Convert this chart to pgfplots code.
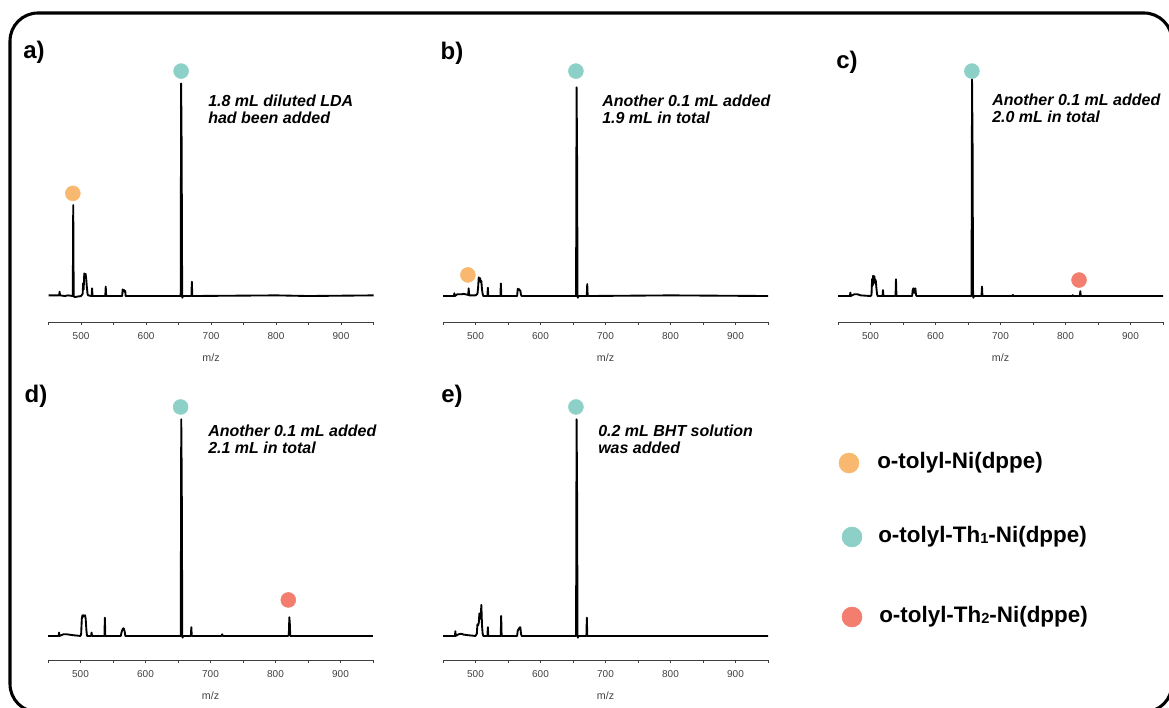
\documentclass[border=0pt]{standalone}
\usepackage{pgfplots}
\pgfplotsset{compat=1.18}
\usepackage{fontspec}
\setmainfont{Liberation Sans}
\definecolor{tealc}{HTML}{8DD0C7}
\definecolor{orangec}{HTML}{F8B86F}
\definecolor{redc}{HTML}{F37D6E}
\pgfplotsset{
  panel/.style={scale only axis, width=243.75pt, height=211.5pt,
    xmin=450, xmax=950, axis x line=bottom, axis y line=none,
    axis line style={-, draw=black!75, line width=0.6pt},
    xtick={500,600,...,900}, minor xtick={450,550,...,950},
    tick align=outside, major tick length=2.5pt, minor tick length=2pt,
    tick style={draw=black!75, line width=0.5pt},
    ticklabel style={font=\fontsize{7.5}{8}\selectfont, text=black!75, yshift=-1.5pt},
    xlabel={m/z},
    xlabel style={font=\fontsize{8}{9}\selectfont, text=black!75, at={(axis description cs:0.5,0)}, anchor=center, yshift=-26.5pt},
    clip=false, /pgf/number format/assume math mode=true, scaled x ticks=false,
    anchor=south west},
  toprow/.style={panel, ymin=-12.2, ymax=120.2},
  botrow/.style={panel, ymin=-11.3, ymax=121.1},
  spec/.style={black, line width=1.4pt, line join=round, mark=none},
  dot/.style={only marks, mark=*, mark size=5.6pt, mark options={draw=#1, fill=#1}},
}
\begin{document}
\begin{tikzpicture}
\useasboundingbox (0pt,0pt) rectangle (876.75pt,530.25pt);
\draw[line width=2.3pt, rounded corners=21pt] (7.5pt,-3.75pt) rectangle (879pt,520.5pt);

% panel a
\begin{axis}[toprow, at={(36.4pt,288.75pt)}]
\addplot[spec] coordinates {(450,0.3)(466.3,0.3)(467,2.0)(467.7,0.3)(475,0)(480,0.3)(487.3,0)(488,42.7)(488.7,0)(490,-0.5)(500,0)(502.5,1)(503.3,6)(504,3)(505,10.6)(506,9.5)(507,10.4)(508,8)(509,4)(510,1)(511,0.3)(516.3,0)(517,3.6)(517.7,0)(530,0)(537.3,0)(538,4.4)(538.7,0)(560,0)(563.3,0)(564,3.1)(565,2.5)(566,2.8)(567,2.0)(568,2.4)(568.7,0)(600,0)(653.3,0)(654,99.8)(654.8,70)(655.6,0)(656,-0.8)(656.5,0)(669.8,0)(670.5,6.7)(671.2,0)(800,0.3)(850,0)(950,0.3)};
\addplot[dot=tealc] coordinates {(654,105.6)};
\addplot[dot=orangec] coordinates {(487.4,48.2)};
\end{axis}

% panel b
\begin{axis}[toprow, at={(332.25pt,288.75pt)}]
\addplot[spec] coordinates {(450,0)(466.8,0)(467.5,1.3)(468.2,0)(472,0.8)(478,0.8)(482,1)(488.8,0.5)(489.5,3.6)(490.2,0.3)(500,0.3)(503,1)(504,4)(505,8.8)(506,7)(507,8.4)(508,6.5)(509,7)(510,3)(511,1)(512,0)(518.3,0)(519,3.9)(519.7,0)(538.3,0)(539,5.9)(539.7,0)(564,0)(565,3.4)(566,3)(567,3.2)(568,2.5)(569,2.6)(570,0.5)(571,0)(654.7,0)(655.5,98)(656.2,70)(657,0)(657.5,-0.8)(658,0)(671.2,0)(671.9,5.6)(672.6,0)(800,0.3)(950,0)};
\addplot[dot=tealc] coordinates {(654.5,105.6)};
\addplot[dot=orangec] coordinates {(488.3,9.9)};
\end{axis}

% panel c
\begin{axis}[toprow, at={(628.5pt,288.75pt)}]
\addplot[spec] coordinates {(450,0)(468.3,0)(469,1.6)(469.7,0)(475,0.8)(480,0.8)(485,0.3)(500,0)(501.5,0.5)(502.5,8)(503.5,5)(504,9.5)(505,7)(506,9.3)(507,6)(508,7.5)(509,4)(510,1)(511,0)(518.5,0)(519.2,2.8)(519.9,0)(538.5,0)(539.2,7.8)(539.9,0)(564,0)(565,3)(566,3.6)(567,1.5)(568,3.4)(569,3.6)(570,0.5)(571,0)(655.4,0)(656.2,101.7)(657,72)(657.8,0)(658.3,-0.8)(659,0)(670.8,0)(671.5,4.4)(672.2,0)(718,0)(719,0.5)(720,0)(810,0)(811,0.4)(812,0)(822.1,0)(822.8,2.3)(823.5,0)(950,0)};
\addplot[dot=tealc] coordinates {(656,105.6)};
\addplot[dot=redc] coordinates {(820.8,7.5)};
\end{axis}

% panel d
\begin{axis}[botrow, at={(36pt,35.25pt)}]
\addplot[spec] coordinates {(450,0)(466.3,0)(467,1.6)(467.7,0)(474,0.8)(478,0.8)(490,0.3)(500,0)(501,1)(502,8)(503,9.7)(504,9)(505,9.7)(506,9.2)(507,9.7)(508,8)(509,3)(510,0)(516.3,0)(517,1.6)(517.7,0)(536.8,0)(537.5,8.6)(538.2,0)(562,0)(563,1.5)(564,2.5)(565,3.3)(566,3.6)(567,3.2)(568,2)(569,0)(654.2,0)(655,101.7)(655.8,72)(656.6,0)(657.1,-0.8)(657.6,0)(669.8,0)(670.5,4.1)(671.2,0)(717,0)(718,0.8)(719,0)(819,0)(820.5,0.5)(821.3,8.8)(822,6)(822.7,0)(950,0)};
\addplot[dot=tealc] coordinates {(654,107.5)};
\addplot[dot=redc] coordinates {(819.7,16.9)};
\end{axis}

% panel e
\begin{axis}[botrow, at={(332.25pt,35.25pt)}]
\addplot[spec] coordinates {(450,0)(468.3,0)(469,2.2)(469.7,0)(474,0.8)(478,1)(482,0.6)(490,0.3)(500,0)(502,1)(503,5.5)(504,5)(505,6)(506,10.6)(507,8)(508,9)(509,14.6)(510,5)(511,1)(512,0)(518.3,0)(519,4.1)(519.7,0)(538.8,0)(539.5,9.4)(540.2,0)(564,0)(565,2.5)(566,3)(567,3.5)(568,4.1)(569,4)(570,1)(571,0)(654.7,0)(655.5,101.7)(656.2,72)(657,0)(657.5,-0.8)(658,0)(670.6,0)(671.3,8.6)(672,0)(950,0)};
\addplot[dot=tealc] coordinates {(654.5,107.5)};
\end{axis}

% legend
\begin{axis}[scale only axis, width=276.75pt, height=172.5pt, at={(600pt,42.75pt)}, anchor=south west,
  xmin=800, xmax=1169, ymin=420, ymax=650, y dir=reverse, hide axis, clip=false]
\addplot[dot=orangec, mark size=7.5pt] coordinates {(849,463)};
\addplot[dot=tealc, mark size=7.5pt] coordinates {(852,537)};
\addplot[dot=redc, mark size=7.5pt] coordinates {(852,617)};
\node[anchor=west, font=\fontsize{16.8}{18}\selectfont\bfseries, inner sep=0pt] at (axis cs:877,463) {o-tolyl-Ni(dppe)};
\node[anchor=west, font=\fontsize{16.8}{18}\selectfont\bfseries, inner sep=0pt] at (axis cs:878,537) {o-tolyl-Th\raisebox{-0.5pt}{\fontsize{11}{11}\selectfont 1}-Ni(dppe)};
\node[anchor=west, font=\fontsize{16.8}{18}\selectfont\bfseries, inner sep=0pt] at (axis cs:879,617) {o-tolyl-Th\raisebox{-0.5pt}{\fontsize{11}{11}\selectfont 2}-Ni(dppe)};
\end{axis}

% panel labels
\tikzset{plab/.style={font=\fontsize{18}{20}\selectfont\bfseries, inner sep=0pt},
         ann/.style={font=\fontsize{12}{12.75}\selectfont\bfseries\itshape, align=left, anchor=west, inner sep=0pt}}
\node[plab] at (25.5pt,491.25pt) {a)};
\node[plab] at (339pt,490.5pt) {b)};
\node[plab] at (635.25pt,483.75pt) {c)};
\node[plab] at (27pt,233.25pt) {d)};
\node[plab] at (339pt,233.25pt) {e)};

\node[ann] at (156pt,448.1pt) {1.8 mL diluted LDA\\had been added};
\node[ann] at (451.5pt,448.1pt) {Another 0.1 mL added\\1.9 mL in total};
\node[ann] at (744pt,449.25pt) {Another 0.1 mL added\\2.0 mL in total};
\node[ann] at (156pt,201pt) {Another 0.1 mL added\\2.1 mL in total};
\node[ann] at (448.5pt,201pt) {0.2 mL BHT solution\\was added};
\end{tikzpicture}
\end{document}
